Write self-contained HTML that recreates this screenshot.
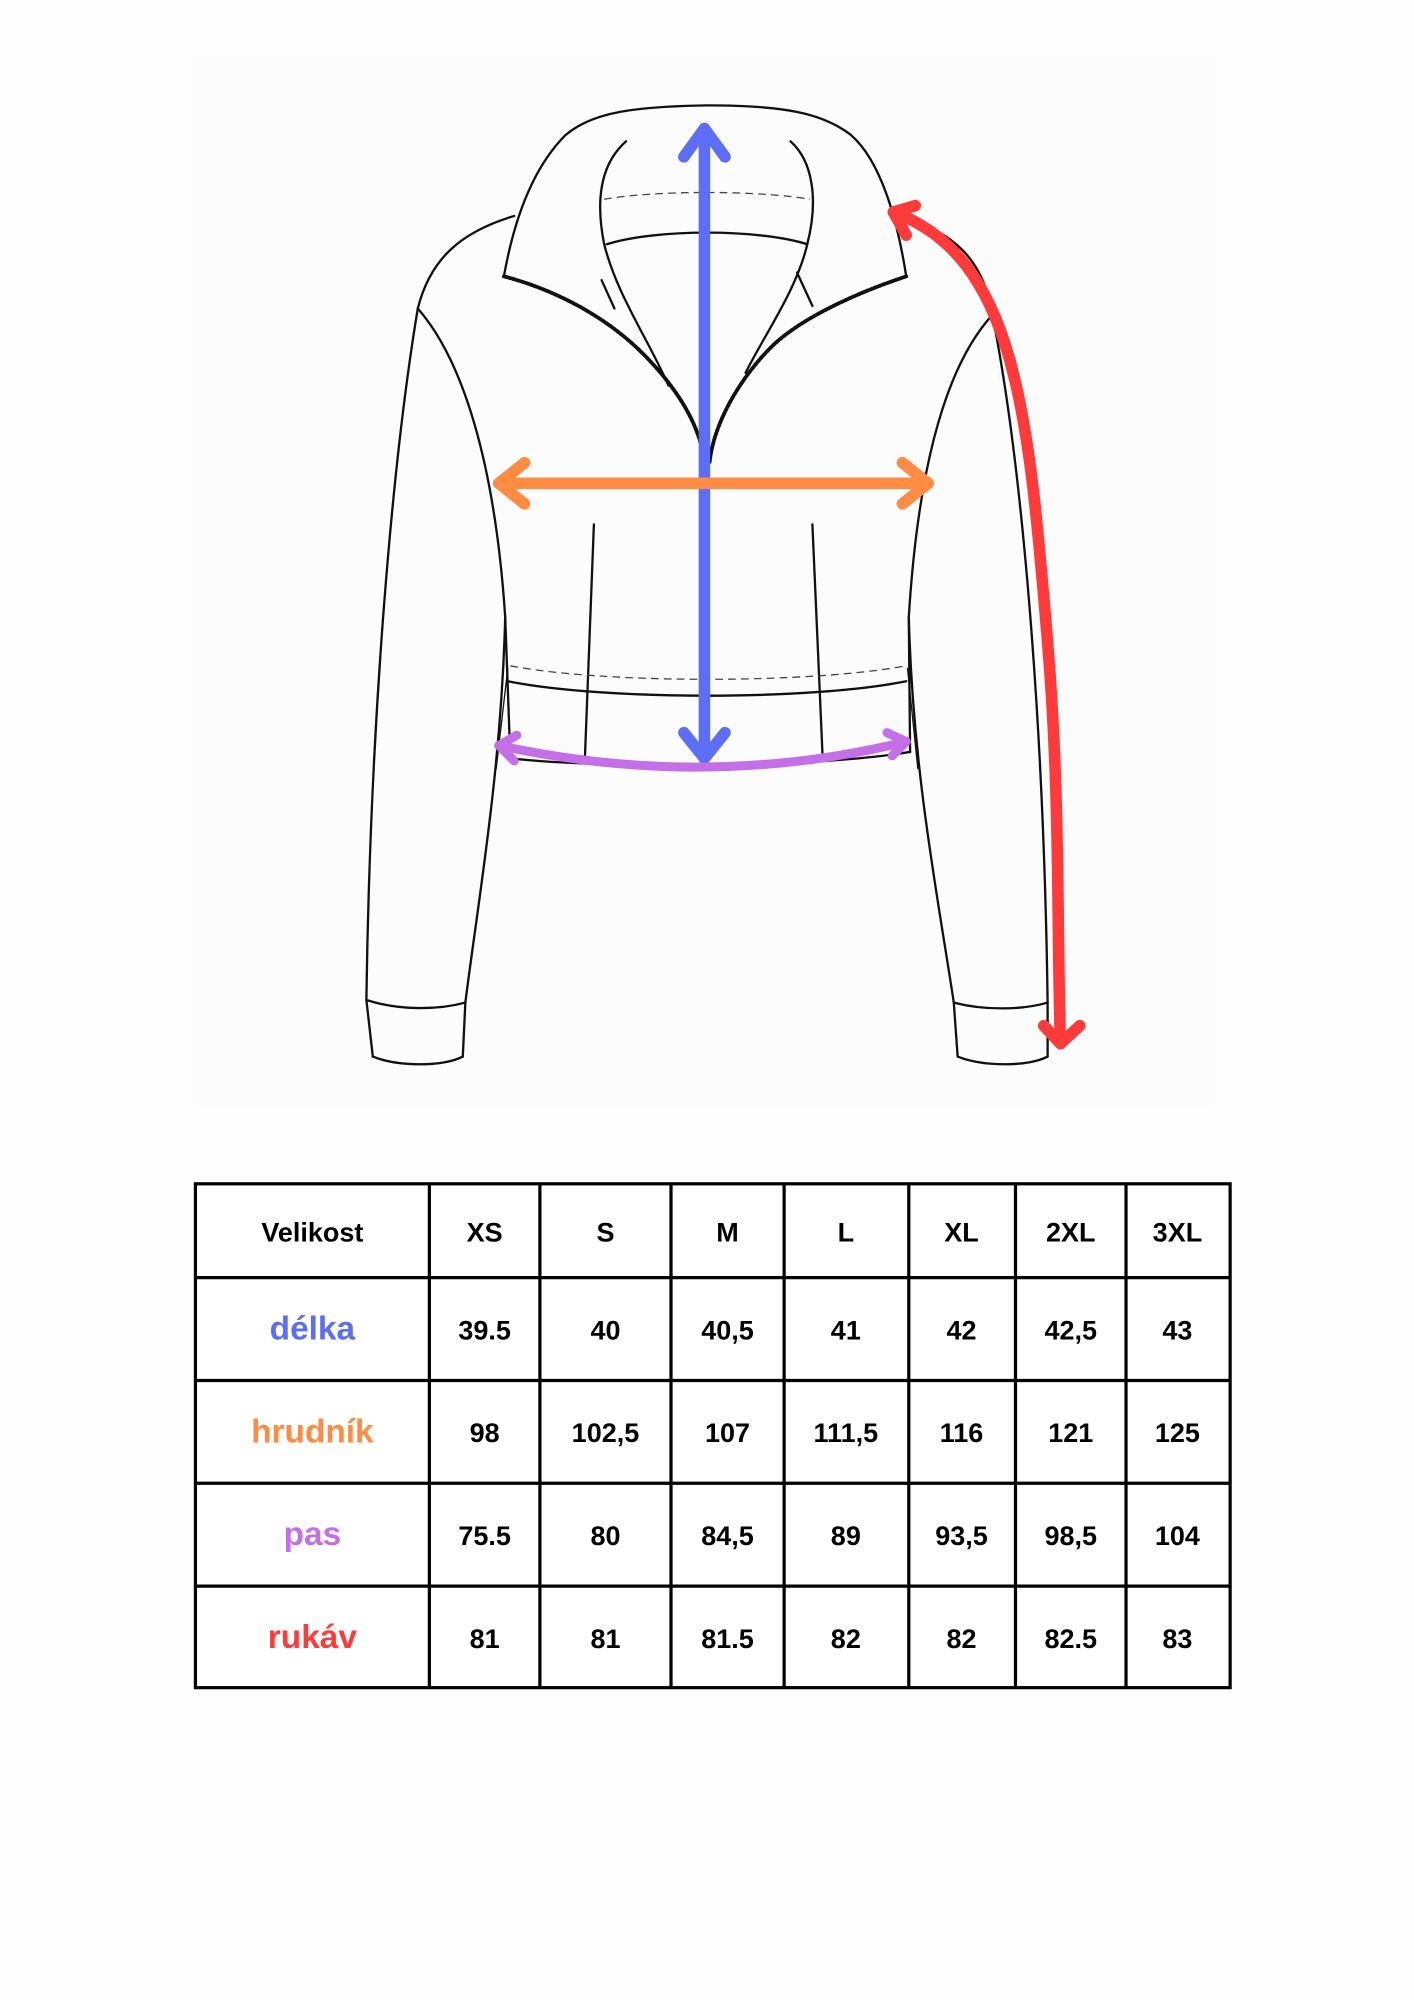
<!DOCTYPE html>
<html><head><meta charset="utf-8"><style>
html,body{margin:0;padding:0;background:#fdfdfd;}
svg{display:block;}
text{font-family:"Liberation Sans",sans-serif;font-weight:bold;text-anchor:middle;dominant-baseline:central;}
</style></head><body>
<svg width="1414" height="2000" viewBox="0 0 1100 1556" xmlns="http://www.w3.org/2000/svg">
<rect width="1100" height="1556" fill="#fdfdfd"/>
<rect x="150" y="45" width="795" height="815" fill="#fcfcfc"/>
<g fill="none" stroke="#111" stroke-width="1.8" stroke-linecap="round" stroke-linejoin="round">
<!-- collar outer -->
<path d="M392,215 C400,170 415,130 440,105 C460,88 490,83 550,82 C610,82 640,88 662,105 C685,125 698,170 705,215"/>
<!-- left sleeve -->
<path d="M400,168 C360,180 335,200 325,240 C305,360 288,560 285,778 L290,822"/>
<path d="M325,240 C360,280 385,360 393,480 L397,590"/>
<path d="M393,480 C390,600 372,700 362,780 L360,822"/>
<path d="M285,778 C310,786 340,786 362,780"/>
<path d="M290,822 C310,830 345,830 360,822"/>
<!-- right sleeve -->
<path d="M700,168 C740,180 765,200 772,245 C795,360 812,560 815,780 L815,822"/>
<path d="M772,245 C740,280 715,350 707,480 L708,585"/>
<path d="M707,480 C710,600 730,700 742,780 L745,822"/>
<path d="M742,780 C765,786 795,786 815,780"/>
<path d="M745,822 C765,830 800,830 815,822"/>
<!-- hem -->
<path d="M395,530 C470,545 630,545 705,530"/>
<path d="M397,590 C470,598 630,598 708,585"/>
<path d="M386,598 L395,520" stroke-width="1"/>
<path d="M714,598 L706,520" stroke-width="1"/>
<!-- pockets -->
<path d="M462,408 L455,590"/>
<path d="M632,408 L640,590"/>
<!-- collar inner -->
<path d="M487,110 C470,125 462,150 470,190 C480,230 505,265 520,300"/>
<path d="M615,110 C632,125 637,155 628,190 C620,225 595,260 580,290"/>
<path d="M472,190 C510,178 590,178 628,190"/>
<path d="M468,218 L478,240"/>
<path d="M620,212 L632,238"/>
<!-- zipper -->
<path d="M392,215 C430,225 470,245 500,275 C525,300 545,330 548,360" stroke-width="3" stroke-dasharray="2 1.5"/>
<path d="M705,215 C660,230 620,250 600,270 C575,295 555,330 552,360" stroke-width="3" stroke-dasharray="2 1.5"/>
</g>
<g fill="none" stroke="#444" stroke-width="1" stroke-dasharray="6 4">
<path d="M470,155 C510,148 590,148 630,155"/>
<path d="M397,518 C470,532 630,532 705,518"/>
</g>
<!-- arrows -->
<g fill="none" stroke-width="9" stroke-linecap="round" stroke-linejoin="round">
<g stroke="#5b6ef5"><path d="M548,100 L548,590"/><path d="M532,122 L548,100 L564,122"/><path d="M532,570 L548,590 L564,570"/></g>
<g stroke="#ff8c42"><path d="M388,376 L722,376"/><path d="M408,360 L388,376 L408,392"/><path d="M702,360 L722,376 L702,392"/></g>
<g stroke="#c46ee8" stroke-width="7"><path d="M388,580 Q550,615 705,577"/><path d="M402,572 L388,580 L400,592"/><path d="M690,570 L705,577 L694,588"/></g>
<g stroke="#ff3a3a"><path d="M695,165 C790,200 800,320 815,500 C825,620 822,720 825,812"/><path d="M712,160 L695,165 L705,183"/><path d="M812,798 L825,812 L840,798"/></g>
</g>
<!-- table -->
<rect x="152" y="921" width="805" height="392" fill="#fff" stroke="#000" stroke-width="2.5"/>
<g stroke="#000" stroke-width="2.5">
<line x1="334" y1="921" x2="334" y2="1313"/><line x1="420" y1="921" x2="420" y2="1313"/>
<line x1="522" y1="921" x2="522" y2="1313"/><line x1="610" y1="921" x2="610" y2="1313"/>
<line x1="707" y1="921" x2="707" y2="1313"/><line x1="790" y1="921" x2="790" y2="1313"/>
<line x1="876" y1="921" x2="876" y2="1313"/>
<line x1="152" y1="994" x2="957" y2="994"/><line x1="152" y1="1074" x2="957" y2="1074"/>
<line x1="152" y1="1154" x2="957" y2="1154"/><line x1="152" y1="1234" x2="957" y2="1234"/>
</g>
<g font-size="21" fill="#000">
<text x="243" y="959">Velikost</text><text x="377" y="959">XS</text><text x="471" y="959">S</text><text x="566" y="959">M</text><text x="658" y="959">L</text><text x="748" y="959">XL</text><text x="833" y="959">2XL</text><text x="916" y="959">3XL</text>
<text x="377" y="1035">39.5</text><text x="471" y="1035">40</text><text x="566" y="1035">40,5</text><text x="658" y="1035">41</text><text x="748" y="1035">42</text><text x="833" y="1035">42,5</text><text x="916" y="1035">43</text>
<text x="377" y="1115">98</text><text x="471" y="1115">102,5</text><text x="566" y="1115">107</text><text x="658" y="1115">111,5</text><text x="748" y="1115">116</text><text x="833" y="1115">121</text><text x="916" y="1115">125</text>
<text x="377" y="1195">75.5</text><text x="471" y="1195">80</text><text x="566" y="1195">84,5</text><text x="658" y="1195">89</text><text x="748" y="1195">93,5</text><text x="833" y="1195">98,5</text><text x="916" y="1195">104</text>
<text x="377" y="1275">81</text><text x="471" y="1275">81</text><text x="566" y="1275">81.5</text><text x="658" y="1275">82</text><text x="748" y="1275">82</text><text x="833" y="1275">82.5</text><text x="916" y="1275">83</text>
</g>
<g font-size="26">
<text x="243" y="1034" fill="#5b6ef5">délka</text>
<text x="243" y="1114" fill="#ff8c42">hrudník</text>
<text x="243" y="1194" fill="#c46ee8">pas</text>
<text x="243" y="1274" fill="#ff3a3a">rukáv</text>
</g>
</svg>
</body></html>
